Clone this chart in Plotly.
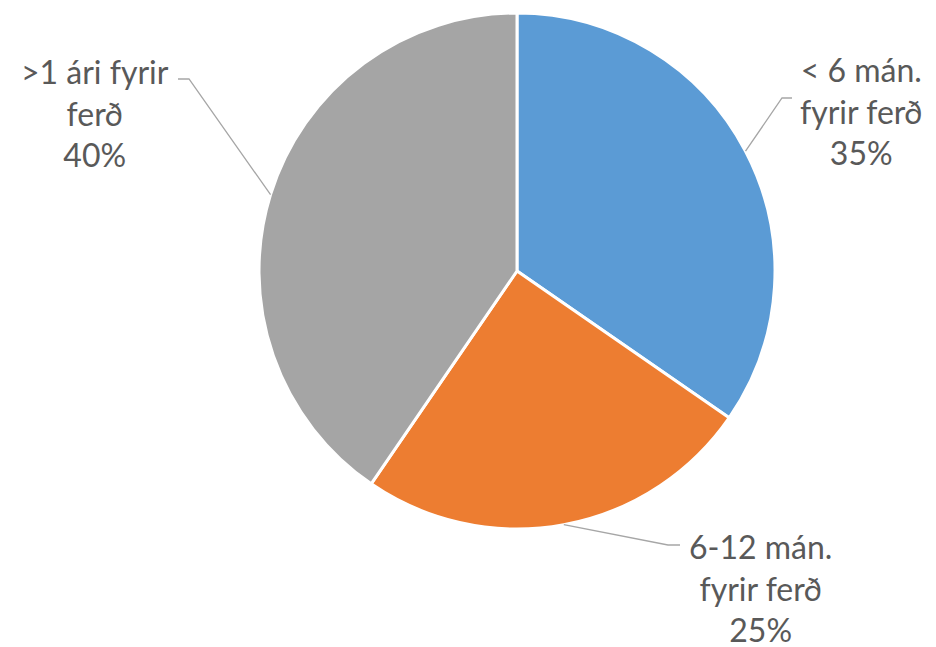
import math
import plotly.graph_objects as go

# Hvenær var ferðin bókuð
labels = ["< 6 mán.<br>fyrir ferð", "6-12 mán.<br>fyrir ferð", ">1 ári fyrir<br>ferð"]
values = [34.6, 24.9, 40.4]
colors = ["#5B9BD5", "#ED7D31", "#A5A5A5"]

W, H = 936, 647
OFF = 8                            # page body margin
CX, CY, R = 517, 271, 258          # pie centre / radius in px (page coords)

# label text centre and leader elbow (px)
label_pos = [(861, 111), (760, 588), (95, 113)]
elbows = [((782, 98), (792, 98)), ((668, 545), (680, 545)), ((189, 79), (178, 79))]


def px(x, y):
    return (x - OFF) / W, 1 - (y - OFF) / H


fig = go.Figure()
dx0, dy1 = px(CX - R, CY - R)
dx1, dy0 = px(CX + R, CY + R)
fig.add_trace(go.Pie(
    labels=labels,
    values=values,
    sort=False,
    direction="clockwise",
    rotation=0,
    textinfo="none",
    hoverinfo="label+percent",
    marker=dict(colors=colors, line=dict(color="white", width=3)),
    domain=dict(x=[dx0, dx1], y=[dy0, dy1]),
    showlegend=False,
))

total = sum(values)
start = 0.0
for lab, v, (tx, ty), (e1, e2) in zip(labels, values, label_pos, elbows):
    mid = (start + v / 2) / total * 2 * math.pi
    start += v
    ax, ay = CX + R * math.sin(mid), CY - R * math.cos(mid)
    x0, y0 = px(ax, ay)
    x1, y1 = px(*e1)
    x2, y2 = px(*e2)
    fig.add_shape(type="path", xref="paper", yref="paper",
                  path=f"M {x0} {y0} L {x1} {y1} L {x2} {y2}",
                  line=dict(color="#A6A6A6", width=1.3))
    lx, ly = px(tx, ty)
    fig.add_annotation(x=lx, y=ly, xref="paper", yref="paper",
                       text=f"{lab}<br>{v / total * 100:.0f}%", showarrow=False,
                       xanchor="center", yanchor="middle", align="center",
                       font=dict(family="Lato", size=32, color="#595959"))

fig.update_layout(
    width=W, height=H,
    margin=dict(l=0, r=0, t=0, b=0),
    paper_bgcolor="white",
    plot_bgcolor="white",
)

fig.write_html("out.html")
